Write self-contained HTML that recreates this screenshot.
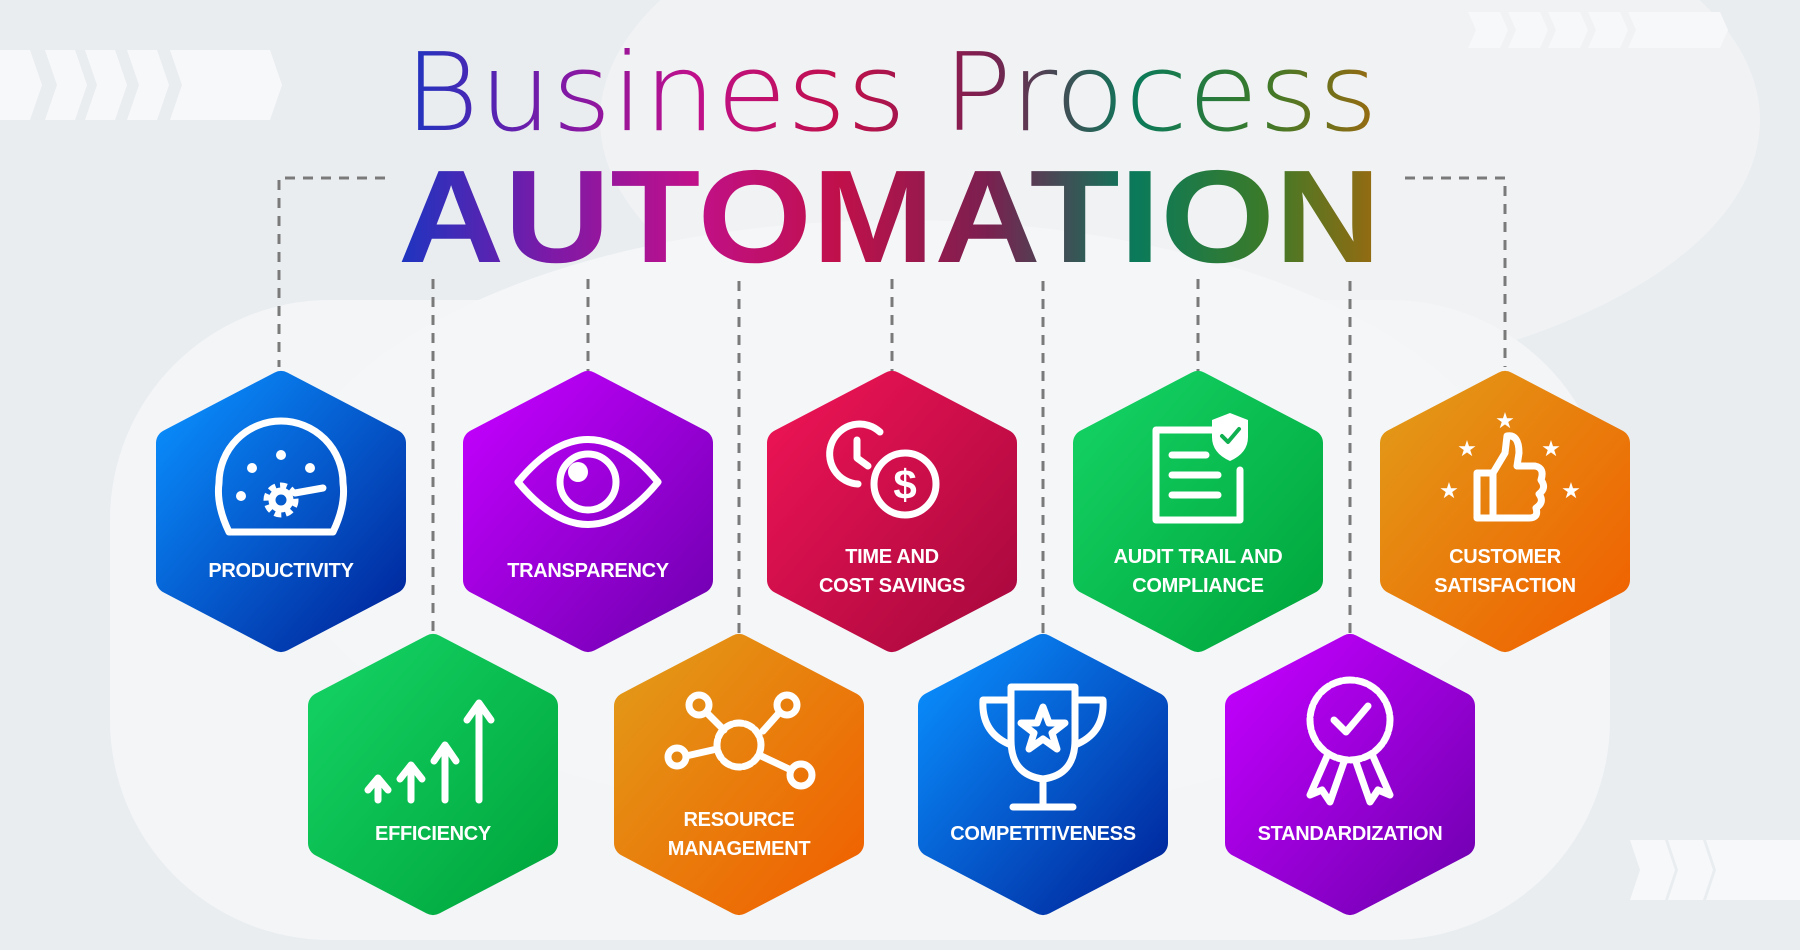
<!DOCTYPE html>
<html><head><meta charset="utf-8"><style>
html,body{margin:0;padding:0;width:1800px;height:950px;overflow:hidden;background:#eceff2}
svg{display:block}
.lbl{font-family:"Liberation Sans",sans-serif;font-weight:bold;font-size:20px;fill:#fff;text-anchor:middle;letter-spacing:-0.3px}
.ic{fill:none;stroke:#fff;stroke-width:7;stroke-linecap:round;stroke-linejoin:round}
.dash{stroke:#7a7a7a;stroke-width:3;stroke-dasharray:10 8;fill:none}
</style></head><body>
<svg width="1800" height="950" viewBox="0 0 1800 950" xmlns="http://www.w3.org/2000/svg">
<defs>
<linearGradient id="tg" x1="0" y1="0" x2="1" y2="0">
<stop offset="0" stop-color="#1c35c0"/><stop offset="0.15" stop-color="#7a1aa8"/><stop offset="0.3" stop-color="#c0108a"/><stop offset="0.45" stop-color="#c0104a"/><stop offset="0.6" stop-color="#7a2050"/><stop offset="0.75" stop-color="#0a7a5a"/><stop offset="0.88" stop-color="#3a7a2a"/><stop offset="1" stop-color="#9a6a10"/>
</linearGradient>
<linearGradient id="gb" x1="0" y1="0" x2="1" y2="1"><stop offset="0" stop-color="#0a90ff"/><stop offset="1" stop-color="#00249a"/></linearGradient>
<linearGradient id="gp" x1="0" y1="0" x2="1" y2="1"><stop offset="0" stop-color="#c400ff"/><stop offset="1" stop-color="#7000b0"/></linearGradient>
<linearGradient id="gr" x1="0" y1="0" x2="1" y2="1"><stop offset="0" stop-color="#ee1455"/><stop offset="1" stop-color="#a8083e"/></linearGradient>
<linearGradient id="gg" x1="0" y1="0" x2="1" y2="1"><stop offset="0" stop-color="#14d264"/><stop offset="1" stop-color="#00a63c"/></linearGradient>
<linearGradient id="go" x1="0" y1="0" x2="1" y2="1"><stop offset="0" stop-color="#e29a18"/><stop offset="1" stop-color="#f06000"/></linearGradient>
<path id="hex" d="M0,14 L111,72 L111,209 L0,267 L-111,209 L-111,72 Z" stroke-width="28" stroke-linejoin="round"/>
</defs>
<rect width="1800" height="950" fill="#eaedf0"/>
<ellipse cx="1180" cy="120" rx="580" ry="270" fill="#f0f2f4"/>
<rect x="110" y="300" width="1500" height="640" rx="220" fill="#f3f5f7"/>
<ellipse cx="900" cy="520" rx="620" ry="300" fill="#f4f6f8"/>
<g fill="#f7f8fa">
<path d="M0,50 L30,50 L42,85 L30,120 L0,120 Z"/>
<path d="M45,50 L75,50 L87,85 L75,120 L45,120 L57,85 Z"/>
<path d="M85,50 L115,50 L127,85 L115,120 L85,120 L97,85 Z"/>
<path d="M127,50 L157,50 L169,85 L157,120 L127,120 L139,85 Z"/>
<path d="M170,50 L270,50 L282,85 L270,120 L170,120 L182,85 Z" />
<path d="M1468,12 L1500,12 L1508,30 L1500,48 L1468,48 L1476,30 Z"/>
<path d="M1508,12 L1540,12 L1548,30 L1540,48 L1508,48 L1516,30 Z"/>
<path d="M1548,12 L1580,12 L1588,30 L1580,48 L1548,48 L1556,30 Z"/>
<path d="M1588,12 L1620,12 L1628,30 L1620,48 L1588,48 L1596,30 Z"/>
<path d="M1628,12 L1720,12 L1728,30 L1720,48 L1628,48 L1636,30 Z"/>
<path d="M1630,840 L1665,840 L1675,870 L1665,900 L1630,900 L1640,870 Z"/>
<path d="M1668,840 L1703,840 L1713,870 L1703,900 L1668,900 L1678,870 Z"/>
<path d="M1706,840 L1800,840 L1800,900 L1706,900 L1716,870 Z"/>
</g>
<text x="404" y="130" textLength="974" lengthAdjust="spacingAndGlyphs" font-family="'DejaVu Sans ExtraLight','DejaVu Sans','Liberation Sans',sans-serif" font-weight="200" font-size="108" fill="url(#tg)">Business Process</text>
<text x="398" y="262" textLength="983" lengthAdjust="spacingAndGlyphs" font-family="'Liberation Sans',sans-serif" font-weight="bold" font-size="132" fill="url(#tg)">AUTOMATION</text>
<path class="dash" d="M385,178 L279,178 L279,367"/>
<path class="dash" d="M1405,178 L1505,178 L1505,367"/>
<path class="dash" d="M433,279 L433,634"/>
<path class="dash" d="M588,279 L588,371"/>
<path class="dash" d="M739,281 L739,634"/>
<path class="dash" d="M892,279 L892,371"/>
<path class="dash" d="M1043,281 L1043,634"/>
<path class="dash" d="M1198,279 L1198,371"/>
<path class="dash" d="M1350,281 L1350,634"/>
<g transform="translate(281,371)"><use href="#hex" fill="url(#gb)" stroke="url(#gb)"/></g>
<g transform="translate(588,371)"><use href="#hex" fill="url(#gp)" stroke="url(#gp)"/></g>
<g transform="translate(892,371)"><use href="#hex" fill="url(#gr)" stroke="url(#gr)"/></g>
<g transform="translate(1198,371)"><use href="#hex" fill="url(#gg)" stroke="url(#gg)"/></g>
<g transform="translate(1505,371)"><use href="#hex" fill="url(#go)" stroke="url(#go)"/></g>
<g transform="translate(433,634)"><use href="#hex" fill="url(#gg)" stroke="url(#gg)"/></g>
<g transform="translate(739,634)"><use href="#hex" fill="url(#go)" stroke="url(#go)"/></g>
<g transform="translate(1043,634)"><use href="#hex" fill="url(#gb)" stroke="url(#gb)"/></g>
<g transform="translate(1350,634)"><use href="#hex" fill="url(#gp)" stroke="url(#gp)"/></g>

<text class="lbl" x="281" y="577">PRODUCTIVITY</text>
<text class="lbl" x="588" y="577">TRANSPARENCY</text>
<text class="lbl" x="892" y="563">TIME AND</text><text class="lbl" x="892" y="592">COST SAVINGS</text>
<text class="lbl" x="1198" y="563">AUDIT TRAIL AND</text><text class="lbl" x="1198" y="592">COMPLIANCE</text>
<text class="lbl" x="1505" y="563">CUSTOMER</text><text class="lbl" x="1505" y="592">SATISFACTION</text>
<text class="lbl" x="433" y="840">EFFICIENCY</text>
<text class="lbl" x="739" y="826">RESOURCE</text><text class="lbl" x="739" y="855">MANAGEMENT</text>
<text class="lbl" x="1043" y="840">COMPETITIVENESS</text>
<text class="lbl" x="1350" y="840">STANDARDIZATION</text>

<g transform="translate(281,485)">
<path class="ic" d="M-52,47 L52,47 Q65,20 62,-2 A62,62 0 0 0 -62,-2 Q-65,20 -52,47 Z"/>
<g fill="#fff"><circle cx="0" cy="-30" r="5"/><circle cx="-29" cy="-17" r="5"/><circle cx="29" cy="-17" r="5"/><circle cx="-40" cy="11" r="5"/></g>
<circle cx="0" cy="15" r="13" fill="none" stroke="#fff" stroke-width="9" stroke-dasharray="6 4"/>
<circle cx="0" cy="15" r="9" class="ic" stroke-width="6"/>
<path class="ic" d="M14,8 L42,3"/>
</g>
<g transform="translate(588,482)">
<path class="ic" d="M-70,0 Q0,-85 70,0 Q0,85 -70,0 Z"/>
<circle cx="0" cy="0" r="28" class="ic"/>
<circle cx="-10" cy="-10" r="10" fill="#fff"/>
</g>
<g transform="translate(892,470)">
<path class="ic" d="M-12,-38 A30,30 0 1 0 -34,14"/>
<path class="ic" d="M-35,-30 L-35,-12 L-24,-4"/>
<circle cx="13" cy="14" r="31" class="ic"/>
<text x="13" y="29" font-family="'Liberation Sans',sans-serif" font-weight="bold" font-size="42" fill="#fff" text-anchor="middle">$</text>
</g>
<g transform="translate(1198,475)">
<path class="ic" d="M20,-45 L-42,-45 L-42,45 L42,45 L42,-5"/>
<path class="ic" d="M-26,-20 L8,-20 M-26,0 L20,0 M-26,20 L20,20"/>
<path d="M32,-62 L50,-55 L50,-38 Q50,-22 32,-14 Q14,-22 14,-38 L14,-55 Z" fill="#fff"/>
<path d="M24,-39 L30,-33 L41,-46" fill="none" stroke="#10b050" stroke-width="4" stroke-linecap="round" stroke-linejoin="round"/>
</g>
<g transform="translate(1505,478)">
<path class="ic" d="M-28,-5 L-12,-5 L-12,40 L-28,40 Z"/>
<path class="ic" d="M-12,-5 L0,-25 L2,-42 Q14,-44 14,-25 L12,-12 L30,-12 Q40,-10 36,2 Q42,10 34,16 Q40,24 31,30 Q34,40 24,40 L-12,40"/>
<g fill="#fff" font-family="'DejaVu Sans',sans-serif" font-size="22" text-anchor="middle">
<text x="0" y="-50">★</text><text x="-38" y="-22">★</text><text x="46" y="-22">★</text><text x="-56" y="20">★</text><text x="66" y="20">★</text>
</g>
</g>
<g transform="translate(433,745)">
<path class="ic" d="M-55,55 L-55,35 M-65,45 L-55,33 L-45,45"/>
<path class="ic" d="M-22,55 L-22,22 M-33,34 L-22,20 L-11,34"/>
<path class="ic" d="M12,55 L12,2 M1,16 L12,0 L23,16"/>
<path class="ic" d="M46,55 L46,-40 M34,-25 L46,-42 L58,-25"/>
</g>
<g transform="translate(739,745)">
<circle cx="0" cy="0" r="22" class="ic" stroke-dasharray="8 3"/>
<circle cx="-40" cy="-40" r="10" class="ic" stroke-width="6"/>
<circle cx="48" cy="-40" r="10" class="ic" stroke-width="6"/>
<circle cx="-62" cy="12" r="9" class="ic" stroke-width="6"/>
<circle cx="62" cy="30" r="11" class="ic" stroke-width="6"/>
<path class="ic" d="M-32,-32 L-15,-15 M40,-32 L24,-14 M-53,11 L-22,4 M52,25 L20,10"/>
</g>
<g transform="translate(1043,745)">
<path class="ic" d="M-32,-58 L32,-58 L32,-5 Q32,30 0,34 Q-32,30 -32,-5 Z"/>
<path class="ic" d="M-32,-45 L-60,-45 Q-62,-12 -32,0 M32,-45 L60,-45 Q62,-12 32,0"/>
<path class="ic" d="M0,34 L0,60 M-30,62 L30,62"/>
<path d="M0,-38 L6,-22 L22,-22 L9,-12 L14,4 L0,-6 L-14,4 L-9,-12 L-22,-22 L-6,-22 Z" class="ic" stroke-width="5"/>
</g>
<g transform="translate(1350,740)">
<circle cx="0" cy="-20" r="40" class="ic" stroke-dasharray="10 3"/>
<path class="ic" d="M-16,-20 L-4,-8 L18,-34"/>
<path class="ic" d="M-22,14 L-40,55 L-28,50 L-20,62 L-6,22 M22,14 L40,55 L28,50 L20,62 L6,22"/>
</g>
</svg>
</body></html>
